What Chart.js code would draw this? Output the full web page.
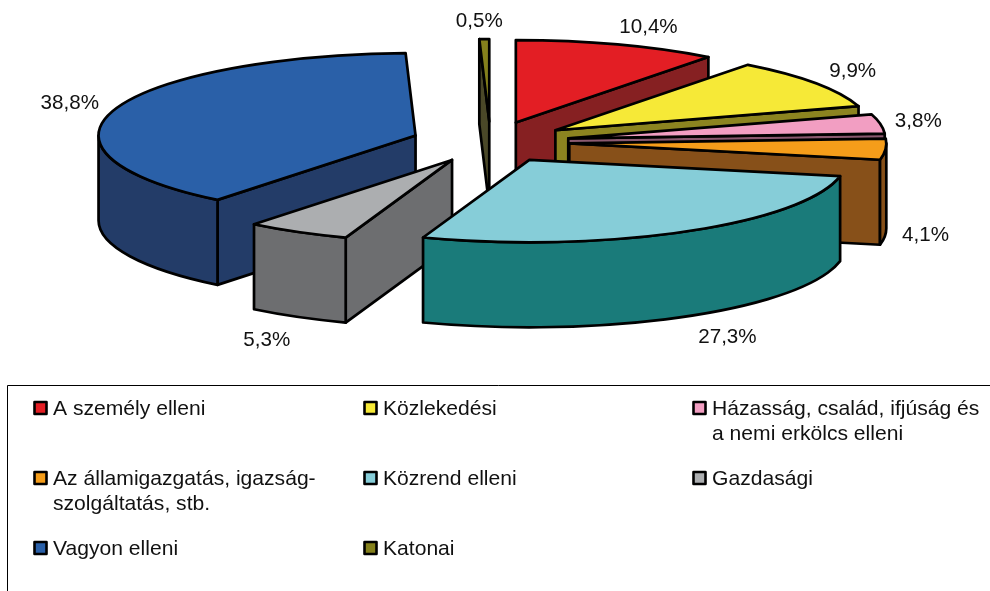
<!DOCTYPE html>
<html>
<head>
<meta charset="utf-8">
<style>html,body{margin:0;padding:0;background:#fff}canvas{display:block}</style>
<script src="https://cdn.jsdelivr.net/npm/chart.js@4"></script>
</head>
<body>
<canvas id="c" width="990" height="591"></canvas>
<script>
const categories = [
  ['A személy elleni'],
  ['Közlekedési'],
  ['Házasság, család, ifjúság és', 'a nemi erkölcs elleni'],
  ['Az államigazgatás, igazság-', 'szolgáltatás, stb.'],
  ['Közrend elleni'],
  ['Gazdasági'],
  ['Vagyon elleni'],
  ['Katonai']
];
const values = [10.4, 9.9, 3.8, 4.1, 27.3, 5.3, 38.8, 0.5];
const valueLabels = ['10,4%', '9,9%', '3,8%', '4,1%', '27,3%', '5,3%', '38,8%', '0,5%'];
const topColors = ['#E31E24', '#F6E937', '#F29EC2', '#F59D1A', '#86CDD8', '#ACAEB0', '#2A60A8', '#84801C'];
const wallColors = ['#862022', '#8C8420', '#8B5A70', '#875019', '#1A7B7A', '#6D6E70', '#233C68', '#4A4828'];

// 3D projection settings
const SQUASH = 0.26, DEPTH = 85, EXPLODE = 79, RADIUS = 317;
// label nudges relative to each slice's outer mid point
const labelNudge = [[31,-17],[37,-12],[38,-3],[40,1],[42,21],[-31,23],[-45,-6],[-5,-18]];
const PCT_FONT = '20.6px "Liberation Sans", Arial, sans-serif';
const LEG_FONT = '21.1px "Liberation Sans", Arial, sans-serif';

const pie3d = {
  id: 'pie3d',
  beforeDatasetsDraw() { return false; },
  afterDraw(chart) {
    const ctx = chart.ctx;
    const arcs = chart.getDatasetMeta(0).data;
    const cy0 = arcs[0].y;
    const geo = arcs.map((el, i) => {
      const mid = (el.startAngle + el.endAngle) / 2;
      const dx = Math.cos(mid) * EXPLODE, dy = Math.sin(mid) * EXPLODE;
      const cx = el.x + dx, cy = cy0 + dy * SQUASH;
      return { el, i, mid, dx, dy, cx, cy, r: el.outerRadius, a0: el.startAngle, a1: el.endAngle };
    });
    const pt = (g, a, d) => [g.cx + g.r * Math.cos(a), g.cy + g.r * SQUASH * Math.sin(a) + (d || 0)];
    // painter's order: the slice whose outline reaches lowest on screen is drawn last
    const lowest = (g) => {
      let y = Math.max(g.cy, pt(g, g.a0)[1], pt(g, g.a1)[1]);
      if (g.a0 < Math.PI / 2 && g.a1 > Math.PI / 2) y = g.cy + g.r * SQUASH;
      return y;
    };
    const order = geo.slice().sort((p, q) => lowest(p) - lowest(q));

    ctx.save();
    ctx.lineWidth = 2.7;
    ctx.lineJoin = 'round';
    ctx.strokeStyle = '#000';
    for (const g of order) {
      const wall = (a) => {
        const p = pt(g, a), q = pt(g, a, DEPTH);
        ctx.beginPath();
        ctx.moveTo(g.cx, g.cy);
        ctx.lineTo(p[0], p[1]);
        ctx.lineTo(q[0], q[1]);
        ctx.lineTo(g.cx, g.cy + DEPTH);
        ctx.closePath();
        ctx.fillStyle = wallColors[g.i];
        ctx.fill();
        ctx.stroke();
      };
      if (Math.cos(g.a0) < -1e-6) wall(g.a0);
      if (Math.cos(g.a1) > 1e-6) wall(g.a1);
      // curved outer wall: only the part facing the viewer
      const s = Math.max(g.a0, 0), e = Math.min(g.a1, Math.PI);
      if (e > s) {
        ctx.beginPath();
        ctx.ellipse(g.cx, g.cy, g.r, g.r * SQUASH, 0, s, e);
        ctx.ellipse(g.cx, g.cy + DEPTH, g.r, g.r * SQUASH, 0, e, s, true);
        ctx.closePath();
        ctx.fillStyle = wallColors[g.i];
        ctx.fill();
        ctx.stroke();
      }
      // top face, filled by the library's own arc element in squashed space
      ctx.save();
      ctx.translate(g.cx, g.cy);
      ctx.scale(1, SQUASH);
      ctx.translate(-g.el.x, -g.el.y);
      g.el.draw(ctx);
      ctx.restore();
      const p = pt(g, g.a0);
      ctx.beginPath();
      ctx.moveTo(g.cx, g.cy);
      ctx.lineTo(p[0], p[1]);
      ctx.ellipse(g.cx, g.cy, g.r, g.r * SQUASH, 0, g.a0, g.a1);
      ctx.closePath();
      ctx.stroke();
    }
    // value labels
    ctx.font = PCT_FONT;
    ctx.fillStyle = '#111';
    ctx.textAlign = 'center';
    ctx.textBaseline = 'middle';
    for (const g of geo) {
      const front = Math.sin(g.mid) > 0;
      const p = pt(g, g.mid, front ? DEPTH : 0);
      ctx.fillText(valueLabels[g.i], p[0] + labelNudge[g.i][0], p[1] + labelNudge[g.i][1]);
    }
    // legend
    const colX = [33, 363, 692], rowY = [408, 478, 548], LINE = 25.5;
    ctx.strokeStyle = '#000';
    ctx.lineWidth = 1;
    ctx.beginPath();
    ctx.moveTo(7.5, 591);
    ctx.lineTo(7.5, 385.5);
    ctx.lineTo(990, 385.5);
    ctx.stroke();
    ctx.textAlign = 'left';
    ctx.font = LEG_FONT;
    categories.forEach((lines, i) => {
      const x = colX[i % 3], y = rowY[Math.floor(i / 3)];
      ctx.fillStyle = topColors[i];
      ctx.fillRect(x + 1.5, y - 6, 12, 12);
      ctx.lineWidth = 2.6;
      ctx.strokeRect(x + 1.5, y - 6, 12, 12);
      ctx.fillStyle = '#111';
      lines.forEach((t, k) => ctx.fillText(t, x + 20, y + 1 + k * LINE));
    });
    ctx.restore();
  }
};

new Chart(document.getElementById('c'), {
  type: 'pie',
  data: {
    labels: categories.map(l => l.join(' ')),
    datasets: [{ data: values, backgroundColor: topColors, borderWidth: 0, offset: 0 }]
  },
  options: {
    responsive: false,
    animation: false,
    radius: RADIUS,
    layout: { padding: { left: 0, right: 9, top: 0, bottom: 307 } },
    plugins: { legend: { display: false }, tooltip: { enabled: false }, title: { display: false } }
  },
  plugins: [pie3d]
});
</script>
</body>
</html>
